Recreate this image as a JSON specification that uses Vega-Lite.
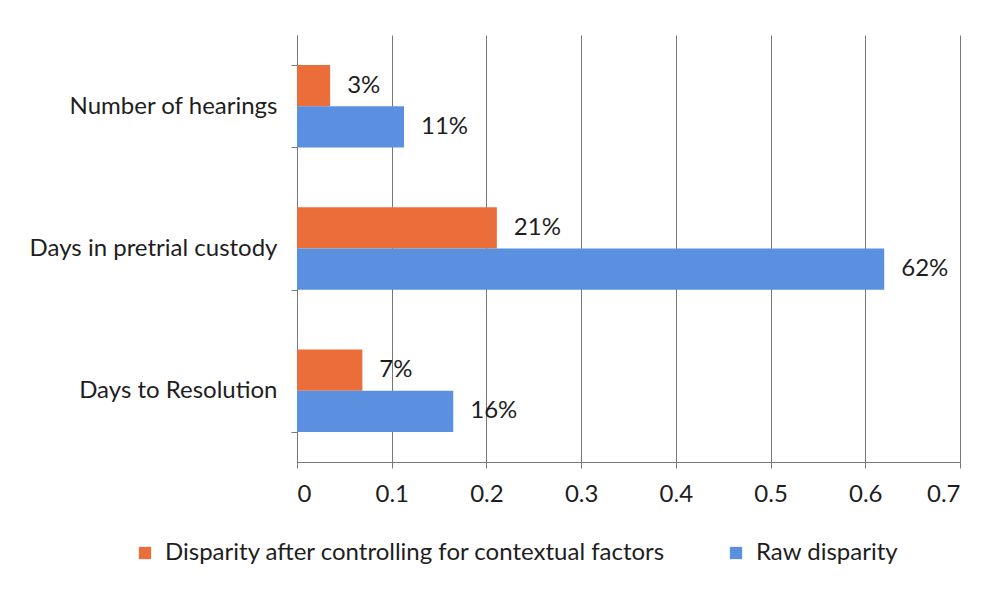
{
  "$schema": "https://vega.github.io/schema/vega-lite/v6.json",
  "autosize": {"type": "none"},
  "width": 663,
  "height": 427,
  "padding": {"left": 297, "top": 35, "right": 35, "bottom": 127},
  "background": "white",
  "config": {
    "font": "Lato",
    "view": {"stroke": null},
    "axis": {"labelFont": "Lato", "labelColor": "#1e1e1e", "labelFontSize": 24}
  },
  "data": {
    "values": [
      {"measure": "Number of hearings", "series": "Disparity after controlling for contextual factors", "value": 0.035, "label": "3%"},
      {"measure": "Number of hearings", "series": "Raw disparity", "value": 0.113, "label": "11%"},
      {"measure": "Days in pretrial custody", "series": "Disparity after controlling for contextual factors", "value": 0.211, "label": "21%"},
      {"measure": "Days in pretrial custody", "series": "Raw disparity", "value": 0.62, "label": "62%"},
      {"measure": "Days to Resolution", "series": "Disparity after controlling for contextual factors", "value": 0.069, "label": "7%"},
      {"measure": "Days to Resolution", "series": "Raw disparity", "value": 0.165, "label": "16%"}
    ]
  },
  "encoding": {
    "y": {
      "field": "measure", "type": "nominal",
      "sort": ["Number of hearings", "Days in pretrial custody", "Days to Resolution"],
      "scale": {"paddingInner": 0.42, "paddingOuter": 0.21},
      "axis": {"title": null, "domainColor": "#777", "tickColor": "#777", "tickSize": 6, "tickBand": "extent", "labelPadding": 14, "labelLimit": 300}
    },
    "yOffset": {
      "field": "series", "type": "nominal",
      "sort": ["Disparity after controlling for contextual factors", "Raw disparity"]
    },
    "x": {
      "field": "value", "type": "quantitative",
      "scale": {"domain": [0, 0.7], "nice": false},
      "axis": {"title": null, "values": [0, 0.1, 0.2, 0.3, 0.4, 0.5, 0.6, 0.7], "format": "~g", "grid": true, "gridColor": "#777", "gridWidth": 1, "domainColor": "#777", "tickColor": "#777", "tickSize": 6, "labelPadding": 14}
    }
  },
  "layer": [
    {
      "mark": {"type": "bar"},
      "encoding": {
        "color": {
          "field": "series", "type": "nominal",
          "sort": ["Disparity after controlling for contextual factors", "Raw disparity"],
          "scale": {"range": ["#EB6D3A", "#5B8FE0"]},
          "legend": {
            "title": null, "orient": "none", "direction": "horizontal",
            "legendX": -164, "legendY": 506,
            "symbolType": "square", "symbolSize": 150, "symbolStrokeWidth": 0,
            "labelFontSize": 24, "labelFont": "Lato", "labelColor": "#1e1e1e",
            "labelOffset": 8, "columnPadding": 58, "labelLimit": 700
          }
        }
      }
    },
    {
      "mark": {"type": "text", "align": "left", "dx": 17, "fontSize": 24, "font": "Lato", "color": "#1e1e1e"},
      "encoding": {"text": {"field": "label"}}
    }
  ]
}
